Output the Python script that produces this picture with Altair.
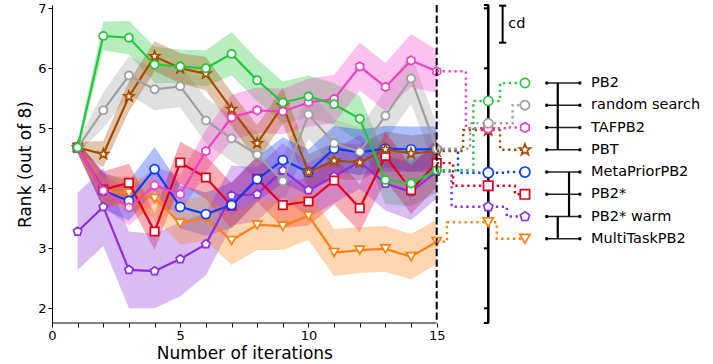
import math
import altair as alt
import pandas as pd

# ---------------- data ----------------
methods = ["PB2", "random search", "TAFPB2", "PBT", "MetaPriorPB2", "PB2*", "PB2* warm", "MultiTaskPB2"]
colors = ["#22c83a", "#a0a0a0", "#f040c4", "#a64a00", "#0a3cff", "#e60019", "#8b2fe0", "#ff800e"]
iterations = list(range(1, 16))

rank_pb2 = [4.68, 6.54, 6.51, 6.06, 6.03, 6.00, 6.24, 5.80, 5.43, 5.53, 5.40, 5.16, 4.14, 4.08, 4.30]
rank_random = [4.68, 5.30, 5.88, 5.65, 5.70, 5.13, 4.83, 4.56, 4.12, 5.23, 4.75, 4.61, 5.21, 5.83, 4.66]
rank_tafpb2 = [4.68, 3.96, 3.68, 4.05, 3.90, 4.62, 5.18, 5.30, 5.28, 5.43, 5.49, 6.03, 5.69, 6.13, 5.95]
rank_pbt = [4.68, 4.57, 5.53, 6.20, 6.00, 5.91, 5.32, 4.75, 5.38, 4.27, 4.46, 4.43, 4.65, 4.58, 4.62]
rank_metaprior = [4.68, 3.96, 3.79, 4.32, 3.69, 3.57, 3.72, 4.15, 4.47, 4.27, 4.66, 4.60, 4.66, 4.65, 4.65]
rank_pb2star = [4.68, 3.98, 4.09, 3.28, 4.43, 4.18, 3.71, 4.16, 3.72, 3.78, 4.13, 3.67, 4.54, 3.97, 4.42]
rank_pb2warm = [3.28, 3.69, 2.64, 2.62, 2.82, 3.07, 3.88, 3.90, 4.30, 3.97, 4.20, 4.44, 4.08, 3.94, 4.28]
rank_multitask = [4.68, 3.97, 3.92, 3.83, 3.42, 3.51, 3.13, 3.39, 3.37, 3.54, 2.93, 2.97, 2.99, 2.86, 3.11]

spread_pb2 = [0.09, 0.24, 0.28, 0.30, 0.28, 0.30, 0.36, 0.35, 0.35, 0.35, 0.35, 0.38, 0.40, 0.38, 0.38]
spread_random = [0.09, 0.30, 0.32, 0.35, 0.35, 0.38, 0.38, 0.38, 0.40, 0.40, 0.40, 0.40, 0.42, 0.42, 0.40]
spread_tafpb2 = [0.09, 0.28, 0.30, 0.30, 0.32, 0.35, 0.38, 0.38, 0.38, 0.40, 0.40, 0.40, 0.40, 0.44, 0.36]
spread_pbt = [0.09, 0.22, 0.25, 0.25, 0.25, 0.28, 0.28, 0.30, 0.30, 0.30, 0.30, 0.30, 0.30, 0.30, 0.30]
spread_metaprior = [0.09, 0.30, 0.33, 0.37, 0.36, 0.36, 0.38, 0.38, 0.38, 0.38, 0.38, 0.38, 0.38, 0.38, 0.38]
spread_pb2star = [0.09, 0.30, 0.32, 0.31, 0.35, 0.36, 0.38, 0.38, 0.38, 0.40, 0.40, 0.40, 0.40, 0.40, 0.40]
spread_pb2warm = [0.64, 0.65, 0.64, 0.62, 0.62, 0.52, 0.50, 0.45, 0.45, 0.45, 0.45, 0.45, 0.45, 0.47, 0.45]
spread_multitask = [0.09, 0.22, 0.28, 0.32, 0.36, 0.38, 0.41, 0.42, 0.40, 0.40, 0.39, 0.38, 0.38, 0.38, 0.37]

avg_rank = [5.455, 5.083, 5.000, 4.970, 4.260, 4.043, 3.693, 3.433]
cd_value = 0.617
cliques = [("PB2", "PBT"), ("MetaPriorPB2", "PB2* warm"), ("PB2* warm", "MultiTaskPB2")]
x_ticks = list(range(0, 16))
y_ticks = [2, 3, 4, 5, 6, 7]

# ---------------- layout / style ----------------
FONT = "DejaVu Sans"
X_DOMAIN = [0, 25.266]
Y_DOMAIN = [1.755, 7.055]
X_END = 15
CD_X = 17.01
CD_TICK = 0.17
LABEL_MARK_X = 18.44
RULE_X0, RULE_X1 = 19.29, 20.58
CLIQUE_X = [19.72, 20.16, 19.72]
TEXT_X = 21.02
ROW_TOP, ROW_STEP = 5.755, 0.371
CDBAR_X, CDBAR_TOP, CAP = 17.57, 7.044, 0.14
left_x = [16.43, 16.30, 16.14, 16.03, 15.83, 15.64, 15.58, 15.40]
right_x = [17.47, 17.96, 17.70, 17.47, 17.70, 18.05, 17.73, 17.34]
draw_order = ["MultiTaskPB2", "PB2* warm", "PB2*", "MetaPriorPB2", "PBT", "TAFPB2", "random search", "PB2"]


def poly(n, start_deg, radii=(1.0,)):
    pts = []
    for k in range(n):
        a = math.radians(start_deg + 360.0 * k / n)
        r = radii[k % len(radii)]
        pts.append((r * math.cos(a), r * math.sin(a)))
    return "M" + " L".join(f"{x:.3f},{y:.3f}" for x, y in pts) + " Z"


shapes = ["circle", poly(8, -67.5), poly(6, -90), poly(10, -90, (1.0, 0.42)),
          "circle", "square", poly(5, -90), "triangle-down"]
sizes = [68, 72, 76, 110, 82, 70, 76, 85]

means = [rank_pb2, rank_random, rank_tafpb2, rank_pbt, rank_metaprior, rank_pb2star, rank_pb2warm, rank_multitask]
spreads = [spread_pb2, spread_random, spread_tafpb2, spread_pbt, spread_metaprior, spread_pb2star,
           spread_pb2warm, spread_multitask]
cmap = dict(zip(methods, colors))
smap = dict(zip(methods, shapes))
zmap = dict(zip(methods, sizes))
row_y = {m: ROW_TOP - k * ROW_STEP for k, m in enumerate(methods)}

rows = []
for m, mv, sv in zip(methods, means, spreads):
    for i, v, s in zip(iterations, mv, sv):
        rows.append({"method": m, "x": i, "y": v, "lo": v - s, "hi": v + s})
df = pd.DataFrame(rows)

xs = alt.Scale(domain=X_DOMAIN, nice=False, zero=False)
ys = alt.Scale(domain=Y_DOMAIN, nice=False, zero=False)
col = alt.Color("method:N", scale=alt.Scale(domain=methods, range=colors), legend=None)

x_axis = alt.Axis(values=x_ticks, labelExpr="datum.value % 5 == 0 ? datum.label : ''",
                  title="Number of iterations", domain=False, tickSize=4, tickColor="black",
                  labelFontSize=13, labelPadding=2, labelColor="black", titleFontSize=17,
                  titleFontWeight="normal", titleColor="black", titleX=192.4, titleY=35,
                  titleAlign="center", titleBaseline="alphabetic", grid=False,
                  labelFlush=False, labelOverlap=False, labelFont=FONT, titleFont=FONT)
y_axis = alt.Axis(values=y_ticks, title="Rank (out of 8)", domainColor="black", domainWidth=1,
                  tickSize=4, tickColor="black", labelFontSize=13, labelPadding=2, labelColor="black",
                  titleFontSize=17, titleFontWeight="normal", titleColor="black", titleX=-22,
                  titleY=159, titleAngle=270, titleAlign="center", titleBaseline="alphabetic",
                  grid=False, labelFlush=False, labelOverlap=False, labelFont=FONT, titleFont=FONT)


def X(f="x"):
    return alt.X(f"{f}:Q", scale=xs, axis=x_axis, title="Number of iterations")


def Y(f="y"):
    return alt.Y(f"{f}:Q", scale=ys, axis=y_axis, title="Rank (out of 8)")


layers = []
# bands
layers.append(alt.Chart(df).mark_area(opacity=0.32).encode(
    x=X(),
    y=alt.Y("lo:Q", scale=ys, axis=y_axis, title="Rank (out of 8)", stack=False),
    y2="hi:Q", color=col))

# lines + markers
for m in draw_order:
    sub = alt.Chart(df).transform_filter(alt.datum.method == m)
    layers.append(sub.mark_line(strokeWidth=2.2, color=cmap[m]).encode(x=X(), y=Y()))
    layers.append(sub.mark_point(shape=smap[m], size=zmap[m], filled=True, fill="white",
                                 stroke=cmap[m], strokeWidth=1.7, opacity=1).encode(x=X(), y=Y()))

# dashed line at last iteration
layers.append(alt.Chart(pd.DataFrame({"x": [X_END]})).mark_rule(
    strokeDash=[7.4, 3.2], strokeWidth=2, color="black").encode(x=X()))
# x spine
layers.append(alt.Chart(pd.DataFrame({"x": [0], "x2": [X_END], "y": [Y_DOMAIN[0]]})).mark_rule(
    color="black", strokeWidth=1).encode(x=X(), x2="x2:Q", y=Y()))

# connectors
crow = []
for k, m in enumerate(methods):
    end = means[k][-1]
    pts = [(X_END, end), (left_x[k], end), (left_x[k], avg_rank[k]), (right_x[k], avg_rank[k]),
           (right_x[k], row_y[m]), (LABEL_MARK_X, row_y[m])]
    for o, (px, py) in enumerate(pts):
        crow.append({"method": m, "o": o, "x": px, "y": py})
cdf = pd.DataFrame(crow)
for m in draw_order:
    layers.append(alt.Chart(cdf).transform_filter(alt.datum.method == m).mark_line(
        strokeWidth=2.4, strokeDash=[2.3, 3.6], color=cmap[m]).encode(
        x=X(), y=Y(), order="o:Q"))

# cd axis
layers.append(alt.Chart(pd.DataFrame({"x": [CD_X]})).mark_rule(
    strokeWidth=2.6, color="black").encode(x=X()))
tick_vals = y_ticks + Y_DOMAIN
layers.append(alt.Chart(pd.DataFrame({"y": tick_vals, "x": [CD_X - CD_TICK] * len(tick_vals),
                                      "x2": [CD_X + 0.02] * len(tick_vals)})).mark_rule(
    strokeWidth=2, color="black").encode(x=X(), x2="x2:Q", y=Y()))

# markers on cd axis and label column
mk = []
for k, m in enumerate(methods):
    mk.append({"method": m, "x": CD_X, "y": avg_rank[k]})
    mk.append({"method": m, "x": LABEL_MARK_X, "y": row_y[m]})
mkdf = pd.DataFrame(mk)
for m in draw_order:
    layers.append(alt.Chart(mkdf).transform_filter(alt.datum.method == m).mark_point(
        shape=smap[m], size=zmap[m] * 1.25, filled=True, fill="white", stroke=cmap[m],
        strokeWidth=1.7, opacity=1).encode(x=X(), y=Y()))

# legend rows
ldf = pd.DataFrame({"method": methods, "y": [row_y[m] for m in methods],
                    "x": [RULE_X0] * len(methods), "x2": [RULE_X1] * len(methods),
                    "tx": [TEXT_X] * len(methods)})
layers.append(alt.Chart(ldf).mark_rule(strokeWidth=1.4, color="#222222").encode(
    x=X(), x2="x2:Q", y=Y()))
layers.append(alt.Chart(ldf).mark_circle(size=12, color="black", opacity=1).encode(x=X(), y=Y()))
layers.append(alt.Chart(ldf).mark_circle(size=12, color="black", opacity=1).encode(x=X("x2"), y=Y()))
layers.append(alt.Chart(ldf).mark_text(align="left", baseline="middle", fontSize=14.5, font=FONT,
                                       color="black").encode(x=X("tx"), y=Y(), text="method:N"))

# cliques
qdf = pd.DataFrame({"x": CLIQUE_X, "y": [row_y[a] for a, b in cliques],
                    "y2": [row_y[b] for a, b in cliques]})
layers.append(alt.Chart(qdf).mark_rule(strokeWidth=2.2, color="black").encode(
    x=X(), y=Y(), y2="y2:Q"))

# cd bar
bdf = pd.DataFrame({"x": [CDBAR_X], "y": [CDBAR_TOP], "y2": [CDBAR_TOP - cd_value]})
layers.append(alt.Chart(bdf).mark_rule(strokeWidth=2, color="black").encode(x=X(), y=Y(), y2="y2:Q"))
capdf = pd.DataFrame({"x": [CDBAR_X - CAP] * 2, "x2": [CDBAR_X + CAP] * 2,
                      "y": [CDBAR_TOP, CDBAR_TOP - cd_value]})
layers.append(alt.Chart(capdf).mark_rule(strokeWidth=2, color="black").encode(
    x=X(), x2="x2:Q", y=Y()))
layers.append(alt.Chart(pd.DataFrame({"x": [CDBAR_X + 0.22], "y": [CDBAR_TOP - cd_value / 2],
                                      "t": ["cd"]})).mark_text(
    align="left", baseline="middle", fontSize=14.5, font=FONT, color="black").encode(
    x=X(), y=Y(), text="t:N"))

chart = alt.layer(*layers).properties(
    width=648, height=318,
    autosize=alt.AutoSizeParams(type="none"),
    padding={"left": 52, "right": 13, "top": 5, "bottom": 41},
).configure(font=FONT, background="white").configure_view(stroke=None)

chart.save("out.html", embed_options={"renderer": "svg", "actions": False})
